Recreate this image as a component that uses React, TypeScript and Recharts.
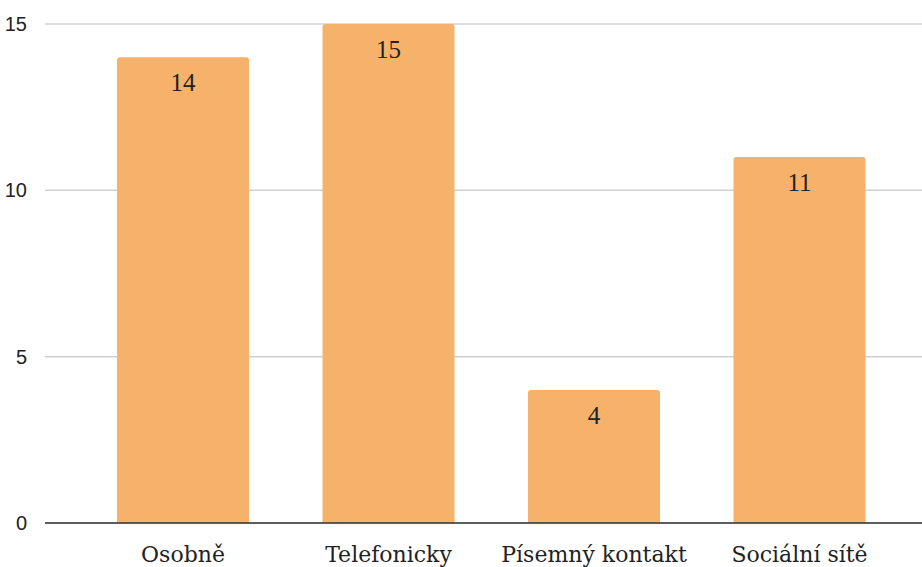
import { Bar, BarChart, CartesianGrid, LabelList, XAxis, YAxis } from "recharts";

const categories = ["Osobně", "Telefonicky", "Písemný kontakt", "Sociální sítě"];
const counts = [14, 15, 4, 11];
const yTicks = [0, 5, 10, 15];

const data = categories.map((name, i) => ({ name, value: counts[i] }));

// category name under the bar, plain svg text so long names never wrap
const renderName = (props: any) => {
  const { x, y, width, height, value, index } = props;
  return (
    <text
      key={index}
      x={Number(x) + Number(width) / 2}
      y={Number(y) + Number(height) + 39}
      textAnchor="middle"
      fill="#222"
      fontSize={22}
      fontFamily="DejaVu Serif"
    >
      {value}
    </text>
  );
};

export default function App() {
  return (
    <div style={{ position: "absolute", left: 0, top: 0, background: "#fff" }}>
      <BarChart width={922} height={567} data={data} margin={{ top: 24, right: 0, left: 0, bottom: 0 }}>
        <CartesianGrid vertical={false} stroke="#d0d0d0" strokeWidth={1.5} />
        <XAxis
          dataKey="name"
          height={44}
          padding={{ left: 35, right: 20 }}
          axisLine={{ stroke: "#333", strokeWidth: 1.5 }}
          tickLine={false}
          tick={false}
        />
        <YAxis
          width={45}
          domain={[0, 15]}
          ticks={yTicks}
          axisLine={false}
          tickLine={false}
          tickMargin={12}
          tick={{ fontSize: 20, fill: "#222", fontFamily: "Liberation Sans" }}
        />
        <Bar dataKey="value" fill="#F6B26B" barSize={132} radius={[3, 3, 0, 0]} isAnimationActive={false}>
          <LabelList
            dataKey="value"
            position="insideTop"
            offset={16}
            style={{ fontSize: 25, fill: "#222", fontFamily: "Liberation Serif" }}
          />
          <LabelList dataKey="name" content={renderName} />
        </Bar>
      </BarChart>
    </div>
  );
}
